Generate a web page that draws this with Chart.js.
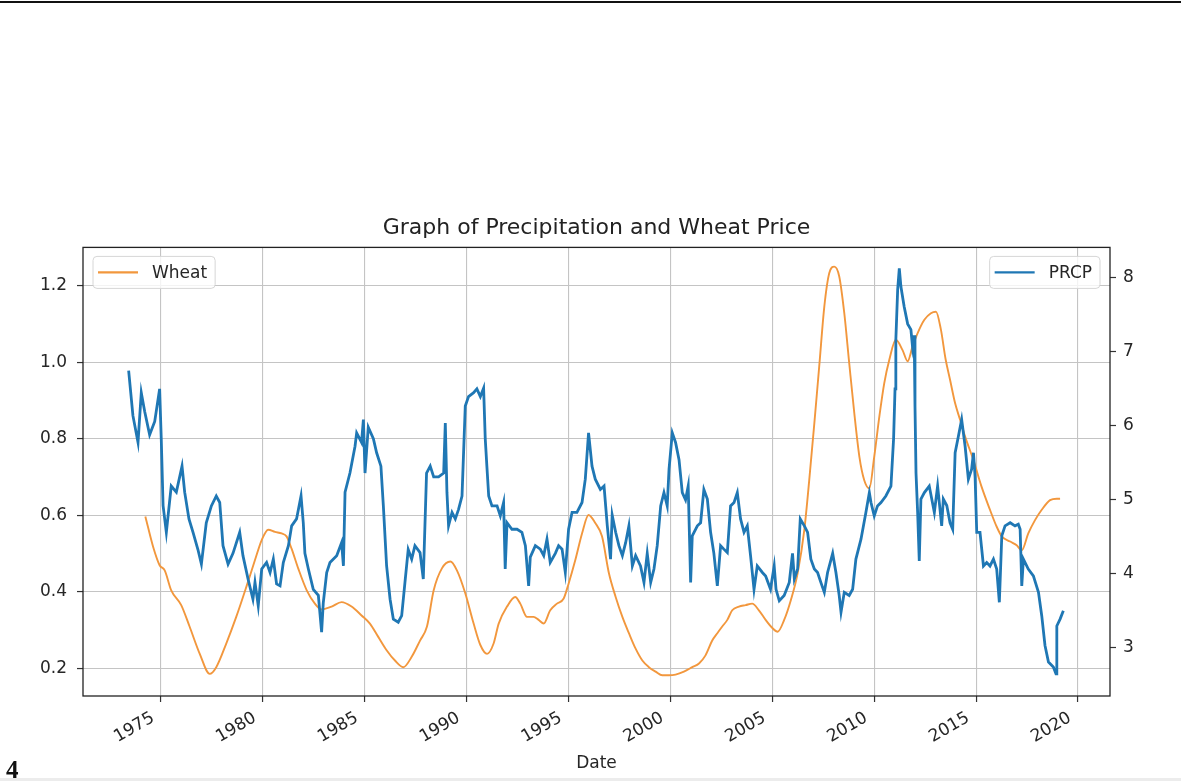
<!DOCTYPE html>
<html>
<head>
<meta charset="utf-8">
<title>Graph of Precipitation and Wheat Price</title>
<script src="https://cdn.jsdelivr.net/npm/chart.js@4.4.1/dist/chart.umd.min.js"></script>
<style>
  html, body { margin: 0; padding: 0; background: #ffffff; }
  #wrap { position: relative; width: 1181px; height: 781px; overflow: hidden; background: #fff; }
  #chart { position: absolute; left: 0; top: 0; }
  #rule { position: absolute; left: 0; top: 1px; width: 1181px; height: 2px; background: #111; }
  #foot { position: absolute; left: 0; top: 778px; width: 1181px; height: 3px; background: #ececec; }
  #num { position: absolute; left: 6px; top: 756px; font-family: "Liberation Serif", "DejaVu Serif", serif;
         font-weight: bold; font-size: 25px; line-height: 28px; color: #111; }
</style>
</head>
<body>
<div id="wrap">
  <div id="rule"></div>
  <canvas id="chart" width="1181" height="781"></canvas>
  <div id="foot"></div>
  <div id="num">4</div>
</div>
<script>
// Precipitation (rolling mean), left axis
const prcpYears = [
  1973.41, 1973.62, 1973.87, 1974.03, 1974.20, 1974.44, 1974.69, 1974.93, 1975.01, 1975.10,
  1975.26, 1975.50, 1975.75, 1976.03, 1976.16, 1976.37, 1976.57, 1976.81, 1976.98, 1977.22,
  1977.47, 1977.71, 1977.88, 1978.04, 1978.29, 1978.53, 1978.86, 1979.02, 1979.27, 1979.51,
  1979.61, 1979.77, 1979.94, 1980.18, 1980.35, 1980.51, 1980.67, 1980.84, 1981.00, 1981.25,
  1981.41, 1981.65, 1981.87, 1981.98, 1982.06, 1982.23, 1982.47, 1982.72, 1982.88, 1982.96,
  1983.13, 1983.29, 1983.62, 1983.86, 1983.95, 1984.03, 1984.27, 1984.52, 1984.60, 1984.84,
  1984.93, 1985.01, 1985.17, 1985.42, 1985.58, 1985.79, 1985.91, 1986.07, 1986.24, 1986.40,
  1986.64, 1986.81, 1986.97, 1987.13, 1987.30, 1987.46, 1987.71, 1987.87, 1988.03, 1988.21,
  1988.38, 1988.62, 1988.87, 1988.95, 1989.03, 1989.11, 1989.28, 1989.44, 1989.60, 1989.77,
  1989.93, 1990.09, 1990.34, 1990.50, 1990.67, 1990.83, 1990.91, 1990.99, 1991.08, 1991.24,
  1991.49, 1991.65, 1991.81, 1991.89, 1991.98, 1992.22, 1992.47, 1992.71, 1992.88, 1993.04,
  1993.12, 1993.37, 1993.61, 1993.78, 1993.94, 1994.10, 1994.35, 1994.51, 1994.68, 1994.84,
  1995.00, 1995.17, 1995.41, 1995.66, 1995.82, 1995.98, 1996.15, 1996.31, 1996.56, 1996.74,
  1996.90, 1997.06, 1997.14, 1997.31, 1997.47, 1997.64, 1997.80, 1997.96, 1998.13, 1998.29,
  1998.53, 1998.70, 1998.86, 1999.03, 1999.19, 1999.35, 1999.52, 1999.68, 1999.84, 1999.93,
  2000.09, 2000.25, 2000.42, 2000.58, 2000.74, 2000.87, 2000.99, 2001.07, 2001.32, 2001.48,
  2001.64, 2001.81, 2001.97, 2002.13, 2002.30, 2002.46, 2002.62, 2002.79, 2002.95, 2003.12,
  2003.28, 2003.44, 2003.61, 2003.77, 2003.93, 2004.10, 2004.26, 2004.51, 2004.67, 2004.91,
  2005.09, 2005.18, 2005.34, 2005.58, 2005.83, 2005.99, 2006.08, 2006.24, 2006.37, 2006.57,
  2006.73, 2006.89, 2007.06, 2007.22, 2007.38, 2007.55, 2007.71, 2007.96, 2008.12, 2008.28,
  2008.37, 2008.53, 2008.77, 2008.94, 2009.10, 2009.35, 2009.59, 2009.76, 2009.84, 2010.00,
  2010.16, 2010.33, 2010.57, 2010.82, 2010.95, 2011.02, 2011.06, 2011.15, 2011.23, 2011.31,
  2011.47, 2011.64, 2011.80, 2011.88, 2011.96, 2012.00, 2012.05, 2012.13, 2012.21, 2012.29,
  2012.46, 2012.70, 2012.95, 2013.11, 2013.31, 2013.39, 2013.56, 2013.72, 2013.85, 2013.97,
  2014.13, 2014.29, 2014.46, 2014.62, 2014.78, 2014.87, 2014.95, 2015.03, 2015.19, 2015.36,
  2015.52, 2015.68, 2015.85, 2016.01, 2016.14, 2016.26, 2016.42, 2016.67, 2016.91, 2017.07,
  2017.16, 2017.24, 2017.32, 2017.56, 2017.81, 2018.06, 2018.22, 2018.38, 2018.55, 2018.79,
  2018.92, 2018.96, 2019.12, 2019.28
];
const prcpValues = [
  0.978, 0.860, 0.790, 0.920, 0.870, 0.810, 0.845, 0.930, 0.800, 0.625,
  0.555, 0.676, 0.660, 0.728, 0.660, 0.590, 0.555, 0.510, 0.472, 0.580,
  0.624, 0.650, 0.633, 0.520, 0.472, 0.500, 0.555, 0.494, 0.433, 0.380,
  0.424, 0.363, 0.459, 0.476, 0.450, 0.485, 0.420, 0.415, 0.476, 0.520,
  0.572, 0.590, 0.650, 0.580, 0.500, 0.459, 0.406, 0.390, 0.294, 0.370,
  0.450, 0.476, 0.494, 0.528, 0.467, 0.660, 0.710, 0.780, 0.815, 0.790,
  0.850, 0.710, 0.830, 0.800, 0.763, 0.728, 0.624, 0.467, 0.380, 0.328,
  0.320, 0.337, 0.424, 0.510, 0.485, 0.520, 0.502, 0.433, 0.710, 0.728,
  0.700, 0.700, 0.710, 0.841, 0.660, 0.572, 0.607, 0.590, 0.615, 0.650,
  0.885, 0.910, 0.920, 0.930, 0.910, 0.932, 0.800, 0.728, 0.650, 0.624,
  0.624, 0.598, 0.633, 0.459, 0.580, 0.563, 0.563, 0.555, 0.520, 0.415,
  0.490, 0.520, 0.511, 0.494, 0.537, 0.476, 0.500, 0.520, 0.511, 0.450,
  0.563, 0.607, 0.607, 0.633, 0.694, 0.815, 0.728, 0.694, 0.667, 0.676,
  0.572, 0.485, 0.600, 0.555, 0.520, 0.494, 0.528, 0.572, 0.467, 0.494,
  0.467, 0.424, 0.500, 0.424, 0.459, 0.520, 0.624, 0.659, 0.624, 0.720,
  0.815, 0.790, 0.745, 0.659, 0.640, 0.676, 0.424, 0.546, 0.572, 0.580,
  0.667, 0.642, 0.555, 0.500, 0.415, 0.520, 0.511, 0.502, 0.624, 0.633,
  0.659, 0.590, 0.555, 0.572, 0.494, 0.406, 0.467, 0.450, 0.441, 0.406,
  0.467, 0.406, 0.376, 0.390, 0.424, 0.500, 0.433, 0.459, 0.590, 0.572,
  0.555, 0.485, 0.459, 0.450, 0.424, 0.398, 0.450, 0.500, 0.450, 0.390,
  0.346, 0.398, 0.390, 0.406, 0.485, 0.537, 0.607, 0.659, 0.633, 0.598,
  0.624, 0.633, 0.650, 0.676, 0.800, 0.930, 1.058, 1.190, 1.245, 1.197,
  1.145, 1.100, 1.085, 1.040, 1.070, 0.885, 0.710, 0.607, 0.480, 0.642,
  0.659, 0.676, 0.607, 0.676, 0.572, 0.642, 0.625, 0.580, 0.563, 0.763,
  0.806, 0.850, 0.780, 0.694, 0.720, 0.763, 0.700, 0.555, 0.555, 0.467,
  0.476, 0.467, 0.485, 0.459, 0.372, 0.546, 0.572, 0.580, 0.572, 0.576,
  0.563, 0.415, 0.485, 0.459, 0.441, 0.398, 0.337, 0.259, 0.216, 0.203,
  0.185, 0.310, 0.328, 0.350
];

// Wheat price (rolling mean), right axis
const wheatYears = [
  1974.23, 1974.61, 1974.93, 1975.18, 1975.50, 1975.99, 1976.40, 1976.90, 1977.39, 1977.71,
  1978.20, 1978.69, 1979.19, 1979.61, 1979.94, 1980.26, 1980.59, 1980.92, 1981.16, 1981.41,
  1981.74, 1982.15, 1982.55, 1982.88, 1983.37, 1983.86, 1984.35, 1984.84, 1985.25, 1985.66,
  1986.07, 1986.48, 1986.89, 1987.30, 1987.71, 1988.05, 1988.38, 1988.79, 1989.20, 1989.52,
  1989.93, 1990.34, 1990.67, 1991.00, 1991.32, 1991.57, 1991.98, 1992.38, 1992.63, 1992.96,
  1993.28, 1993.53, 1993.78, 1994.10, 1994.43, 1994.76, 1995.00, 1995.33, 1995.66, 1995.98,
  1996.31, 1996.64, 1996.98, 1997.31, 1997.64, 1997.96, 1998.29, 1998.62, 1998.94, 1999.27,
  1999.60, 1999.93, 2000.25, 2000.66, 2001.07, 2001.40, 2001.72, 2002.05, 2002.30, 2002.54,
  2002.79, 2003.03, 2003.36, 2003.69, 2004.01, 2004.34, 2004.67, 2005.00, 2005.26, 2005.58,
  2005.91, 2006.24, 2006.57, 2006.81, 2007.06, 2007.30, 2007.55, 2007.79, 2008.04, 2008.28,
  2008.53, 2008.77, 2009.02, 2009.27, 2009.51, 2009.76, 2010.00, 2010.25, 2010.49, 2010.74,
  2011.06, 2011.39, 2011.64, 2011.88, 2012.13, 2012.46, 2012.78, 2013.03, 2013.27, 2013.50,
  2013.72, 2013.97, 2014.21, 2014.46, 2014.87, 2015.27, 2015.68, 2016.01, 2016.26, 2016.67,
  2016.99, 2017.24, 2017.56, 2017.89, 2018.22, 2018.63, 2018.96, 2019.12
];
const wheatValues = [
  4.77, 4.36, 4.11, 4.04, 3.77, 3.57, 3.28, 2.91, 2.64, 2.73,
  3.05, 3.41, 3.82, 4.18, 4.45, 4.59, 4.56, 4.54, 4.50, 4.33,
  4.06, 3.77, 3.59, 3.51, 3.55, 3.61, 3.55, 3.43, 3.32, 3.14,
  2.96, 2.82, 2.73, 2.87, 3.09, 3.28, 3.77, 4.07, 4.16, 4.04,
  3.73, 3.32, 3.03, 2.91, 3.05, 3.32, 3.55, 3.68, 3.59, 3.41,
  3.41, 3.37, 3.32, 3.50, 3.59, 3.66, 3.86, 4.18, 4.54, 4.79,
  4.68, 4.50, 4.00, 3.68, 3.41, 3.19, 2.98, 2.82, 2.73, 2.67,
  2.62, 2.62, 2.63, 2.67, 2.73, 2.78, 2.89, 3.09, 3.19, 3.28,
  3.37, 3.50, 3.55, 3.57, 3.59, 3.50, 3.37, 3.26, 3.21, 3.37,
  3.64, 4.00, 4.59, 5.26, 6.03, 6.80, 7.61, 8.06, 8.15, 8.02,
  7.52, 6.85, 6.17, 5.58, 5.26, 5.15, 5.58, 6.12, 6.57, 6.89,
  7.16, 7.02, 6.87, 7.07, 7.25, 7.43, 7.52, 7.54, 7.30, 6.90,
  6.62, 6.30, 6.08, 5.85, 5.53, 5.17, 4.86, 4.63, 4.50, 4.43,
  4.38, 4.31, 4.54, 4.72, 4.86, 4.99, 5.01, 5.01
];

// Axis ticks
const yearTicks = [1975, 1980, 1985, 1990, 1995, 2000, 2005, 2010, 2015, 2020];
const leftTicks = [0.2, 0.4, 0.6, 0.8, 1.0, 1.2];
const rightTicks = [3, 4, 5, 6, 7, 8];

const FONT = 'DejaVu Sans';
const INK = '#262626';

const toPoints = (xs, ys) => xs.map((x, i) => ({ x, y: ys[i] }));

// Frame around the plotting area plus one legend box per axis
const framePlugin = {
  id: 'frameAndLegends',
  afterDatasetsDraw(chart) {
    const { ctx, chartArea: a } = chart;
    ctx.save();
    ctx.strokeStyle = '#222';
    ctx.lineWidth = 1.3;
    ctx.strokeRect(a.left, a.top, a.right - a.left, a.bottom - a.top);

    ctx.font = '17px "' + FONT + '"';
    const drawBox = (ds, side) => {
      const label = ds.label;
      const tw = ctx.measureText(label).width;
      const h = 32, lineLen = 40, padL = 5, gap = 14, padR = 8;
      const w = padL + lineLen + gap + tw + padR;
      const x = side === 'left' ? a.left + 10 : a.right - 10 - w;
      const y = a.top + 9;
      const r = 4;
      ctx.beginPath();
      ctx.moveTo(x + r, y);
      ctx.arcTo(x + w, y, x + w, y + h, r);
      ctx.arcTo(x + w, y + h, x, y + h, r);
      ctx.arcTo(x, y + h, x, y, r);
      ctx.arcTo(x, y, x + w, y, r);
      ctx.closePath();
      ctx.fillStyle = 'rgba(255,255,255,0.8)';
      ctx.fill();
      ctx.strokeStyle = '#d6d6d6';
      ctx.lineWidth = 1;
      ctx.stroke();
      const cy = y + h / 2;
      ctx.beginPath();
      ctx.moveTo(x + padL, cy);
      ctx.lineTo(x + padL + lineLen, cy);
      ctx.strokeStyle = ds.borderColor;
      ctx.lineWidth = 2.2;
      ctx.stroke();
      ctx.fillStyle = INK;
      ctx.textBaseline = 'middle';
      ctx.textAlign = 'left';
      ctx.fillText(label, x + padL + lineLen + gap, cy + 1);
    };
    const byLabel = l => chart.data.datasets.find(d => d.label === l);
    drawBox(byLabel('Wheat'), 'left');
    drawBox(byLabel('PRCP'), 'right');
    ctx.restore();
  }
};

new Chart(document.getElementById('chart'), {
  type: 'line',
  data: {
    datasets: [
      {
        label: 'PRCP',
        data: toPoints(prcpYears, prcpValues),
        yAxisID: 'y',
        borderColor: '#1f77b4',
        borderWidth: 2.8,
        pointRadius: 0,
        tension: 0,
        fill: false
      },
      {
        label: 'Wheat',
        data: toPoints(wheatYears, wheatValues),
        yAxisID: 'y2',
        borderColor: '#f2973d',
        borderWidth: 1.9,
        pointRadius: 0,
        cubicInterpolationMode: 'monotone',
        fill: false
      }
    ]
  },
  options: {
    responsive: false,
    animation: false,
    devicePixelRatio: 1,
    layout: { padding: { top: 214.8, left: 0, right: 0, bottom: 0 } },
    plugins: {
      legend: { display: false },
      tooltip: { enabled: false },
      title: {
        display: true,
        text: 'Graph of Precipitation and Wheat Price',
        fullSize: false,
        color: '#222',
        font: { family: FONT, size: 22, weight: 'normal' },
        padding: { top: 0, bottom: 6.2 }
      }
    },
    scales: {
      x: {
        type: 'linear',
        min: 1971.17,
        max: 2021.57,
        afterBuildTicks: s => { s.ticks = yearTicks.map(v => ({ value: v })); },
        afterFit: s => { s.height = 85; },
        ticks: {
          autoSkip: false,
          minRotation: 30,
          maxRotation: 30,
          padding: 6,
          labelOffset: -8,
          color: INK,
          font: { family: FONT, size: 17 },
          callback: v => String(v)
        },
        grid: { color: '#c4c4c4', lineWidth: 1.1, tickLength: 6, tickColor: '#333', tickWidth: 1.2 },
        border: { display: false },
        title: {
          display: true,
          text: 'Date',
          color: INK,
          font: { family: FONT, size: 17 },
          padding: { top: 0, bottom: 7 }
        }
      },
      y: {
        type: 'linear',
        position: 'left',
        min: 0.127,
        max: 1.30,
        afterBuildTicks: s => { s.ticks = leftTicks.map(v => ({ value: v })); },
        afterFit: s => { s.width = 83; },
        ticks: {
          padding: 10,
          color: INK,
          font: { family: FONT, size: 17 },
          callback: v => v.toFixed(1)
        },
        grid: { color: '#c4c4c4', lineWidth: 1.1, tickLength: 6, tickColor: '#333', tickWidth: 1.2 },
        border: { display: false }
      },
      y2: {
        type: 'linear',
        position: 'right',
        min: 2.34,
        max: 8.41,
        afterBuildTicks: s => { s.ticks = rightTicks.map(v => ({ value: v })); },
        afterFit: s => { s.width = 71; },
        ticks: {
          padding: 7,
          color: INK,
          font: { family: FONT, size: 17 },
          callback: v => String(v)
        },
        grid: { drawOnChartArea: false, tickLength: 6, tickColor: '#333', tickWidth: 1.2 },
        border: { display: false }
      }
    }
  },
  plugins: [framePlugin]
});
</script>
</body>
</html>
